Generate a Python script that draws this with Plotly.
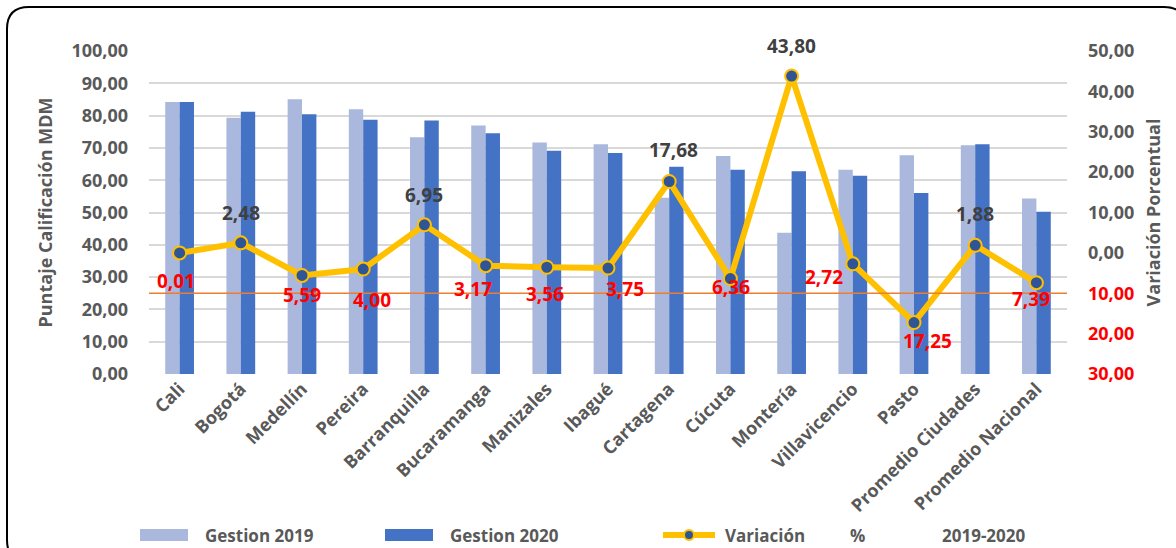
import plotly.graph_objects as go

# ---------------- data ----------------
categories = ["Cali", "Bogotá", "Medellín", "Pereira", "Barranquilla", "Bucaramanga",
              "Manizales", "Ibagué", "Cartagena", "Cúcuta", "Montería", "Villavicencio",
              "Pasto", "Promedio Ciudades", "Promedio Nacional"]
gestion_2019 = [84.2, 79.3, 85.1, 82.0, 73.3, 76.9, 71.7, 71.1, 54.6, 67.5, 43.7, 63.2, 67.7, 70.8, 54.3]
gestion_2020 = [84.2, 81.2, 80.4, 78.7, 78.5, 74.5, 69.1, 68.4, 64.2, 63.2, 62.8, 61.4, 56.0, 71.1, 50.2]
variacion = [-0.01, 2.48, -5.59, -4.00, 6.95, -3.17, -3.56, -3.75, 17.68, -6.36, 43.80, -2.72, -17.25, 1.88, -7.39]
left_ticks = [0, 10, 20, 30, 40, 50, 60, 70, 80, 90, 100]
right_ticks = [-30, -20, -10, 0, 10, 20, 30, 40, 50]
reference_level = -10  # orange horizontal line on the secondary axis

# label offsets (pixels) for data labels: (xshift, yshift)
label_offsets = [(-4, -28), (0, 30), (0, -20), (9, -31), (0, 30), (-13, -23), (-2, -27),
                 (17, -21), (4, 31), (1, -8), (0, 30), (-29, -13), (13, -18), (0, 31), (-5, -16)]

# ---------------- layout geometry ----------------
FW, FH = 1176, 548
L, R, T, B = 149, 109, 51, 174
W, H = FW - L - R, FH - T - B

def px(x):
    return (x - L) / W

def py(y):
    return (T + H - y) / H

FONT = "Open Sans"
GRAY = "#595959"
DARK = "#404040"
RED = "#FF0000"
C2019 = "#A9B8DC"
C2020 = "#4472C4"
GOLD = "#FFC000"
MARK = "#2F5597"

def fmt(v):
    return f"{abs(v):.2f}".replace(".", ",")

fig = go.Figure()
fig.add_trace(go.Bar(x=categories, y=gestion_2019, name="Gestion 2019",
                     marker=dict(color=C2019, line=dict(width=0)), showlegend=False))
fig.add_trace(go.Bar(x=categories, y=gestion_2020, name="Gestion 2020",
                     marker=dict(color=C2020, line=dict(width=0)), showlegend=False))
fig.add_trace(go.Scatter(x=categories, y=variacion, yaxis="y2", mode="lines+markers",
                         name="Variación % 2019-2020",
                         line=dict(color=GOLD, width=6),
                         marker=dict(size=13, color=MARK, line=dict(color=GOLD, width=2)),
                         showlegend=False))

annotations = []
for i, (c, v) in enumerate(zip(categories, variacion)):
    dx, dy = label_offsets[i]
    annotations.append(dict(x=c, y=v, xref="x", yref="y2", text=fmt(v), showarrow=False,
                            xshift=dx, yshift=dy,
                            font=dict(family=FONT, size=19, color=RED if v < 0 else DARK,
                                      weight="bold")))

# legend (manual)
leg_y = 535
legend_font = dict(family=FONT, size=17, color=GRAY, weight="bold")
for xt, txt in [(203, "Gestion 2019"), (448, "Gestion 2020"), (723, "Variación"),
                (848, "%"), (940, "2019-2020")]:
    annotations.append(dict(x=px(xt), y=py(leg_y), xref="paper", yref="paper", text=txt,
                            showarrow=False, xanchor="left", yanchor="middle", font=legend_font))

shapes = []
shapes.append(dict(type="rect", xref="paper", yref="paper", x0=px(140), x1=px(188),
                   y0=py(541), y1=py(529), fillcolor=C2019, line=dict(width=0)))
shapes.append(dict(type="rect", xref="paper", yref="paper", x0=px(385), x1=px(433),
                   y0=py(541), y1=py(529), fillcolor=C2020, line=dict(width=0)))
shapes.append(dict(type="line", xref="paper", yref="paper", x0=px(663), x1=px(715),
                   y0=py(leg_y), y1=py(leg_y), line=dict(color=GOLD, width=6)))
shapes.append(dict(type="circle", xref="paper", yref="paper", x0=px(684), x1=px(694),
                   y0=py(leg_y + 5), y1=py(leg_y - 5), fillcolor=MARK,
                   line=dict(color=GOLD, width=2)))

# orange reference line on secondary axis
shapes.append(dict(type="line", xref="paper", yref="y2", x0=0, x1=1,
                   y0=reference_level, y1=reference_level,
                   line=dict(color="#ED7D31", width=1.5), layer="above"))

# outer rounded border
x0b, y0b, x1b, y1b, rr = 7, 7, 1186, 562, 22
path = (f"M {px(x0b)},{py(y0b + rr)} "
        f"Q {px(x0b)},{py(y0b)} {px(x0b + rr)},{py(y0b)} "
        f"L {px(x1b - rr)},{py(y0b)} "
        f"Q {px(x1b)},{py(y0b)} {px(x1b)},{py(y0b + rr)} "
        f"L {px(x1b)},{py(y1b - rr)} "
        f"Q {px(x1b)},{py(y1b)} {px(x1b - rr)},{py(y1b)} "
        f"L {px(x0b + rr)},{py(y1b)} "
        f"Q {px(x0b)},{py(y1b)} {px(x0b)},{py(y1b - rr)} Z")
shapes.append(dict(type="path", xref="paper", yref="paper", path=path,
                   line=dict(color="black", width=2), layer="below"))

tick_font = dict(family=FONT, size=18, color=GRAY, weight="bold")
title_font = dict(family=FONT, size=18, color=GRAY, weight="bold")

fig.update_layout(
    width=FW, height=FH,
    margin=dict(l=L, r=R, t=T, b=B, pad=0, autoexpand=False),
    paper_bgcolor="white", plot_bgcolor="white",
    separators=",.",
    barmode="group", bargap=0.53, bargroupgap=0,
    font=dict(family=FONT, color=GRAY),
    xaxis=dict(range=[-0.5, len(categories) - 0.5], tickangle=-45, tickfont=tick_font,
               showgrid=False, showline=False, ticks="", zeroline=False, automargin=False),
    yaxis=dict(range=[0, 100], tickvals=left_ticks, tickformat=".2f",
               tickfont=tick_font, showgrid=True, gridcolor="#D9D9D9", gridwidth=1.5,
               zeroline=False, showline=False, ticks="", automargin=False,
               ticklabelstandoff=20,
               title=dict(text="Puntaje Calificación MDM", standoff=14, font=title_font)),
    yaxis2=dict(range=[-30, 50], overlaying="y", side="right", tickvals=right_ticks,
                ticktext=[(f"<span style='color:{RED}'>{fmt(v)}</span>" if v < 0 else fmt(v))
                          for v in right_ticks],
                tickfont=tick_font, showgrid=False, zeroline=False, showline=False, ticks="",
                automargin=False, ticklabelstandoff=20,
                title=dict(text="Variación Porcentual", standoff=14, font=title_font)),
    annotations=annotations,
    shapes=shapes,
    showlegend=False,
)

fig.write_html("out.html", config={"displayModeBar": False},
               post_script="document.body.style.margin='0';")
